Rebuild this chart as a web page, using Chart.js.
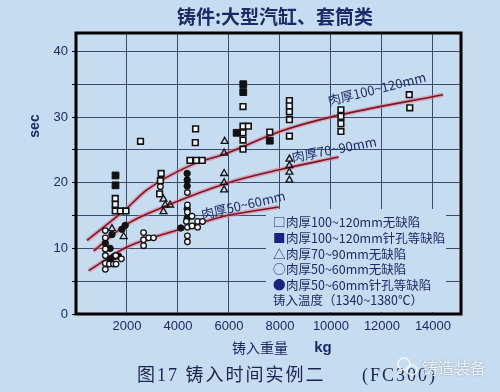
<!DOCTYPE html>
<html>
<head>
<meta charset="utf-8">
<script src="https://cdn.jsdelivr.net/npm/chart.js@4/dist/chart.umd.min.js"></script>
<style>
  html, body { margin: 0; padding: 0; background: #c6dcf1; }
  #wrap { width: 500px; height: 392px; }
</style>
</head>
<body>
<div id="wrap"><canvas id="castChart" width="500" height="392"></canvas></div>
<script>
// pouring weight (kg) vs pouring time (sec)
const openSq100 = [
  [1540, 17.6], [1540, 16.7], [1540, 15.7], [1740, 15.7], [1960, 15.7],
  [2530, 26.3], [3340, 21.4], [3310, 20.3], [3280, 18.3],
  [4690, 28.2], [4680, 26.1], [4470, 23.4], [4720, 23.4], [4950, 23.4],
  [6550, 31.6], [6550, 28.6], [6760, 28.6], [6550, 27.6], [6550, 26.5], [6550, 25.1],
  [7600, 27.7],
  [8370, 32.5], [8370, 31.7], [8370, 30.8], [8370, 29.6], [8370, 27.1],
  [10390, 31.1], [10390, 30.1], [10390, 29.0], [10390, 27.8],
  [13070, 33.4], [13090, 31.4]
];
const filledSq100 = [[1550, 21.1], [1550, 19.6], [6560, 35.0], [6560, 33.8], [6300, 27.6], [7600, 26.4]];
const tri70 = [
  [1410, 13.0], [1870, 11.8], [3430, 17.5], [3500, 16.6], [3690, 16.6], [3430, 15.6],
  [5830, 26.3], [5810, 24.5], [5810, 21.4], [5810, 20.0], [5810, 18.9],
  [8370, 23.6], [8370, 22.6], [8370, 21.6], [8370, 20.4]
];
const openCirc50 = [
  [1150, 12.7], [1150, 11.6], [1150, 9.9], [1150, 8.9], [1150, 7.7], [1150, 6.8],
  [1310, 7.6], [1470, 7.6], [1570, 7.6], [1780, 8.4], [1560, 8.9],
  [2650, 12.4], [2650, 11.3], [2850, 11.6], [3040, 11.6], [2650, 10.4], [3310, 19.4],
  [4370, 18.5], [4370, 16.6], [4370, 15.5], [4370, 13.2], [4370, 11.9], [4370, 11.0],
  [4550, 14.9], [4550, 13.4], [4770, 14.1], [4770, 13.2], [4960, 14.1], [4330, 14.1]
];
const filledCirc50 = [
  [1410, 12.1], [1800, 12.9], [1930, 13.5], [1150, 10.8], [1340, 10.0], [1340, 8.4],
  [1480, 8.7], [1670, 8.8],
  [4360, 21.4], [4360, 20.4], [4360, 19.5], [4360, 16.0], [4360, 14.6], [4110, 13.1]
];

// trend curves
const curve100 = [[430, 11.2], [1960, 16.0], [2780, 18.9], [4470, 22.6], [5920, 24.5], [8000, 27.8], [10100, 30.1], [14400, 33.4]];
const curve70 = [[690, 9.6], [2000, 13.7], [3500, 16.4], [5980, 20.0], [8010, 22.0], [10300, 23.9]];
const curve50 = [[495, 6.6], [2000, 10.2], [4090, 12.9], [5920, 15.0], [6830, 15.6], [7950, 16.3]];

// axis ticks
const xTicks = [0, 2000, 4000, 6000, 8000, 10000, 12000, 14000];
const yTicks = [0, 5, 10, 15, 20, 25, 30, 35, 40];

const curveLabels = ["肉厚100~120mm", "肉厚70~90mm", "肉厚50~60mm"];
const curveLabelAt = [[11800, 34.3, -14], [10120, 25.1, -11], [6560, 16.6, -13]];

const legendGlyphs = ["□", "■", "△", "○", "●"];
const legendTexts = ["肉厚100~120mm无缺陷", "肉厚100~120mm针孔等缺陷", "肉厚70~90mm无缺陷", "肉厚50~60mm无缺陷", "肉厚50~60mm针孔等缺陷"];
const legendNote = "铸入温度（1340~1380℃）";

const NAVY = "#1b2a66";
const BG = "#c6dcf1";
const CJK = '"Noto Sans CJK SC", "Noto Sans", sans-serif';
const toXY = arr => arr.map(p => ({ x: p[0], y: p[1] }));

function curve(data, halo) {
  return {
    type: "line",
    data: toXY(data),
    showLine: true,
    fill: false,
    borderColor: halo ? "rgba(226, 120, 138, 0.55)" : "#7a1626",
    borderWidth: halo ? 4.5 : 1.6,
    pointRadius: 0,
    cubicInterpolationMode: "monotone",
    order: halo ? 3 : 2
  };
}

const extras = {
  id: "extras",
  beforeDatasetsDraw(chart) {
    const ctx = chart.ctx;
    // legend area covers the grid
    ctx.save();
    ctx.fillStyle = BG;
    ctx.fillRect(266, 209, 180, 103);
    ctx.restore();
  },
  afterDraw(chart) {
    const ctx = chart.ctx;
    const a = chart.chartArea;
    const xs = chart.scales.x, ys = chart.scales.y;
    ctx.save();
    // frame
    ctx.strokeStyle = "#000";
    ctx.lineWidth = 3;
    ctx.strokeRect(a.left, a.top, a.right - a.left, a.bottom - a.top);

    // title
    ctx.fillStyle = NAVY;
    ctx.textAlign = "center";
    ctx.textBaseline = "middle";
    ctx.font = "bold 19px " + CJK;
    ctx.fillText("铸件:大型汽缸、套筒类", 275, 17);

    // y title
    ctx.save();
    ctx.translate(35, 126);
    ctx.rotate(-Math.PI / 2);
    ctx.font = "bold 14px 'Liberation Sans', Arial, sans-serif";
    ctx.fillText("sec", 0, 0);
    ctx.restore();

    // x title
    ctx.font = "14px " + CJK;
    ctx.fillText("铸入重量", 260, 348);
    ctx.font = "bold 15px 'Liberation Sans', Arial, sans-serif";
    ctx.fillText("kg", 323, 348);

    // curve labels
    ctx.font = "13px " + CJK;
    curveLabels.forEach((t, i) => {
      const [vx, vy, ang] = curveLabelAt[i];
      ctx.save();
      ctx.translate(xs.getPixelForValue(vx), ys.getPixelForValue(vy));
      ctx.rotate(ang * Math.PI / 180);
      ctx.fillText(t, 0, 0);
      ctx.restore();
    });

    // legend
    ctx.textAlign = "left";
    ctx.font = "12.5px " + CJK;
    const rows = [222, 238, 254, 269, 285];
    legendTexts.forEach((t, i) => {
      ctx.fillStyle = (i === 1 || i === 4) ? "#1a237e" : NAVY;
      ctx.fillText(legendGlyphs[i], 273, rows[i]);
      ctx.fillStyle = NAVY;
      ctx.fillText(t, 286, rows[i]);
    });
    ctx.fillText(legendNote, 273, 300);

    // caption
    ctx.font = "18px 'Liberation Serif', " + CJK;
    ctx.fillStyle = "#1d2452";
    ctx.letterSpacing = "2px";
    ctx.fillText("图17 铸入时间实例二", 137, 376);
    ctx.fillText("(FC300)", 362, 376);
    ctx.letterSpacing = "0px";

    // watermark
    ctx.font = "16px " + CJK;
    ctx.shadowColor = "rgba(90, 100, 120, 0.6)";
    ctx.shadowBlur = 2;
    ctx.fillStyle = "rgba(245, 248, 252, 0.9)";
    ctx.fillText("铸造装备", 422, 368);
    ctx.shadowBlur = 0;
    ctx.strokeStyle = "rgba(245, 248, 252, 0.9)";
    ctx.lineWidth = 1.5;
    ctx.beginPath();
    ctx.arc(404, 364, 6, 0, Math.PI * 2);
    ctx.stroke();
    ctx.beginPath();
    ctx.arc(412, 370, 5, 0, Math.PI * 2);
    ctx.stroke();
    ctx.restore();
  }
};

new Chart(document.getElementById("castChart"), {
  type: "scatter",
  data: {
    datasets: [
      { data: toXY(openSq100), pointStyle: "rect", pointRadius: 4, borderColor: "#111", borderWidth: 1.6, backgroundColor: "#f3f6fa", order: 0 },
      { data: toXY(filledSq100), pointStyle: "rect", pointRadius: 4.8, borderColor: "#111", borderWidth: 1, backgroundColor: "#111", order: 0 },
      { data: toXY(tri70), pointStyle: "triangle", pointRadius: 4, borderColor: "#111", borderWidth: 1.3, backgroundColor: "rgba(0,0,0,0)", order: 0 },
      { data: toXY(openCirc50), pointStyle: "circle", pointRadius: 2.8, borderColor: "#111", borderWidth: 1.3, backgroundColor: "#f3f6fa", order: 0 },
      { data: toXY(filledCirc50), pointStyle: "circle", pointRadius: 3.2, borderColor: "#111", borderWidth: 1, backgroundColor: "#111", order: 0 },
      curve(curve100, false), curve(curve70, false), curve(curve50, false),
      curve(curve100, true), curve(curve70, true), curve(curve50, true)
    ]
  },
  options: {
    responsive: false,
    animation: false,
    layout: { padding: { top: 33, right: 39, left: 0, bottom: 0 } },
    plugins: { legend: { display: false }, tooltip: { enabled: false } },
    scales: {
      x: {
        min: 0,
        max: 15100,
        afterBuildTicks: s => { s.ticks = xTicks.map(v => ({ value: v })); },
        afterFit: s => { s.height = 78; },
        ticks: {
          autoSkip: false,
          maxRotation: 0,
          padding: 5,
          color: NAVY,
          font: { family: "'Liberation Sans', Arial, sans-serif", size: 13 },
          callback: v => (v > 0 ? v : "")
        },
        grid: { color: "#3d4c6e", lineWidth: 1, drawTicks: false },
        border: { display: false }
      },
      y: {
        min: 0,
        max: 42.8,
        afterBuildTicks: s => { s.ticks = yTicks.map(v => ({ value: v })); },
        afterFit: s => { s.width = 76; },
        ticks: {
          autoSkip: false,
          padding: 4,
          color: NAVY,
          font: { family: "'Liberation Sans', Arial, sans-serif", size: 13 },
          callback: v => (v % 10 === 0 ? v : "")
        },
        grid: { color: "#3d4c6e", lineWidth: 1, tickLength: 4, tickColor: "#000" },
        border: { display: false }
      }
    }
  },
  plugins: [extras]
});
</script>
</body>
</html>
